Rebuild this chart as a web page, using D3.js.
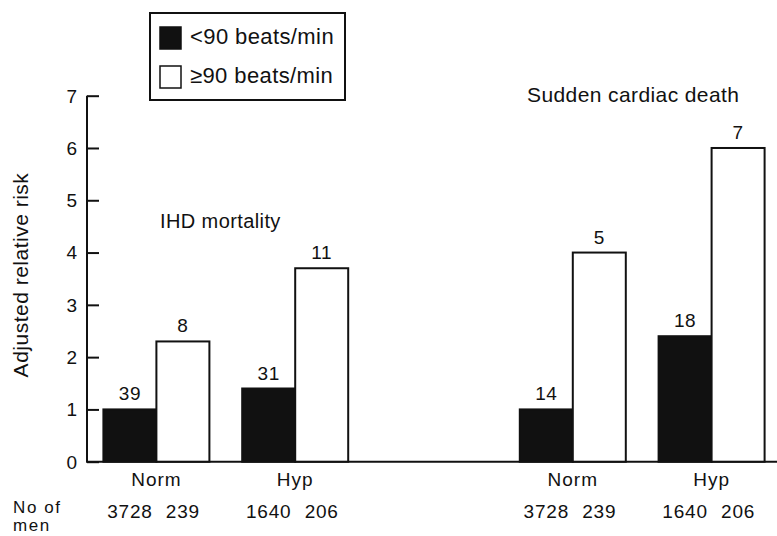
<!DOCTYPE html>
<html>
<head>
<meta charset="utf-8">
<script src="https://cdn.jsdelivr.net/npm/d3@7"></script>
<style>
  body { margin: 0; background: #fff; }
  svg text { font-family: "Liberation Sans", Arial, sans-serif; fill: #111; }
</style>
</head>
<body>
<div id="chart"></div>
<script>
// Data
const groupKeys = ["IHD-Norm", "IHD-Hyp", "gap", "SCD-Norm", "SCD-Hyp"];
const groupNames = ["Norm", "Hyp", "Norm", "Hyp"];
const groupSlots = ["IHD-Norm", "IHD-Hyp", "SCD-Norm", "SCD-Hyp"];
const riskLow = [1.0, 1.4, 1.0, 2.4];    // <90 beats/min
const riskHigh = [2.3, 3.7, 4.0, 6.0];   // >=90 beats/min
const deathsLow = [39, 31, 14, 18];
const deathsHigh = [8, 11, 5, 7];
const menLow = [3728, 1640, 3728, 1640];
const menHigh = [239, 206, 239, 206];
const yTicks = [0, 1, 2, 3, 4, 5, 6, 7];
const seriesNames = ["<90 beats/min", "\u226590 beats/min"];

const width = 777, height = 536;
const svg = d3.select("#chart").append("svg")
    .attr("width", width)
    .attr("height", height);

// Scales
const x = d3.scaleBand().domain(groupKeys).range([87, 781]);
const sub = d3.scaleBand().domain(["low", "high"]).range([-53, 53]);
const y = d3.scaleLinear().domain([0, 7]).range([461.7, 95.7]);

const rows = groupSlots.map((k, i) => ({
    key: k, name: groupNames[i],
    bars: [
        { s: "low", v: riskLow[i], n: deathsLow[i], men: menLow[i] },
        { s: "high", v: riskHigh[i], n: deathsHigh[i], men: menHigh[i] }
    ]
}));

// Y axis (ticks point inward)
const yAxis = d3.axisRight(y).tickValues(yTicks).tickSize(12).tickFormat("");
const yg = svg.append("g").attr("transform", "translate(87,0)").call(yAxis);
yg.select(".domain").attr("d", `M0,${y(7)}V${y(0)}`).attr("stroke", "#111").attr("stroke-width", 2);
yg.selectAll(".tick line").attr("stroke", "#111").attr("stroke-width", 2);

svg.selectAll(".ylab")
    .data(yTicks)
    .enter().append("text")
    .attr("class", "ylab")
    .attr("x", 77)
    .attr("y", d => y(d))
    .attr("dy", "0.36em")
    .attr("text-anchor", "end")
    .style("font-size", "19px")
    .text(d => d);

// X baseline
svg.append("line")
    .attr("x1", 86).attr("x2", 777)
    .attr("y1", y(0)).attr("y2", y(0))
    .attr("stroke", "#111").attr("stroke-width", 2);

// Bars
const groups = svg.selectAll(".grp")
    .data(rows)
    .enter().append("g")
    .attr("class", "grp")
    .attr("transform", d => `translate(${x(d.key) + x.bandwidth() / 2},0)`);

groups.selectAll("rect")
    .data(d => d.bars)
    .enter().append("rect")
    .attr("x", d => sub(d.s))
    .attr("width", sub.bandwidth())
    .attr("y", d => y(d.v))
    .attr("height", d => y(0) - y(d.v))
    .attr("fill", d => d.s === "low" ? "#111" : "#fff")
    .attr("stroke", "#111")
    .attr("stroke-width", 2);

// Death counts above bars
groups.selectAll(".cnt")
    .data(d => d.bars)
    .enter().append("text")
    .attr("class", "cnt")
    .attr("x", d => sub(d.s) + sub.bandwidth() / 2)
    .attr("y", d => y(d.v) - 9)
    .attr("text-anchor", "middle")
    .style("font-size", "19px")
    .style("letter-spacing", "0.6px")
    .text(d => d.n);

// Category labels
groups.append("text")
    .attr("y", 486)
    .attr("text-anchor", "middle")
    .style("font-size", "19px")
    .style("letter-spacing", "1px")
    .text(d => d.name);

// Number of men
groups.selectAll(".men")
    .data(d => d.bars)
    .enter().append("text")
    .attr("class", "men")
    .attr("x", d => sub(d.s) + sub.bandwidth() / 2)
    .attr("y", 518)
    .attr("text-anchor", "middle")
    .style("font-size", "19px")
    .style("letter-spacing", "0.8px")
    .text(d => d.men);

svg.append("text").attr("x", 13).attr("y", 513).style("font-size", "17px").style("letter-spacing", "1.6px").text("No of");
svg.append("text").attr("x", 13).attr("y", 531).style("font-size", "17px").style("letter-spacing", "1.6px").text("men");

// Panel titles
svg.append("text").attr("x", 160).attr("y", 228).style("font-size", "20px").style("letter-spacing", "0.4px").text("IHD mortality");
svg.append("text").attr("x", 527).attr("y", 102).style("font-size", "21px").style("letter-spacing", "0.4px").text("Sudden cardiac death");

// Y axis title
svg.append("text")
    .attr("transform", "translate(28,275) rotate(-90)")
    .attr("text-anchor", "middle")
    .style("font-size", "21px")
    .style("letter-spacing", "0.5px")
    .text("Adjusted relative risk");

// Legend
const legend = svg.append("g").attr("transform", "translate(150,13)");
legend.append("rect")
    .attr("width", 195).attr("height", 87)
    .attr("fill", "#fff").attr("stroke", "#111").attr("stroke-width", 2);
const li = legend.selectAll(".li")
    .data(seriesNames)
    .enter().append("g")
    .attr("transform", (d, i) => `translate(10,${i === 0 ? 14 : 53})`);
li.append("rect")
    .attr("width", 21).attr("height", 22)
    .attr("fill", (d, i) => i === 0 ? "#111" : "#fff")
    .attr("stroke", "#111").attr("stroke-width", 1.5);
li.append("text")
    .attr("x", 30).attr("y", 17)
    .style("font-size", "22px")
    .style("letter-spacing", "0.4px")
    .text(d => d);
</script>
</body>
</html>
